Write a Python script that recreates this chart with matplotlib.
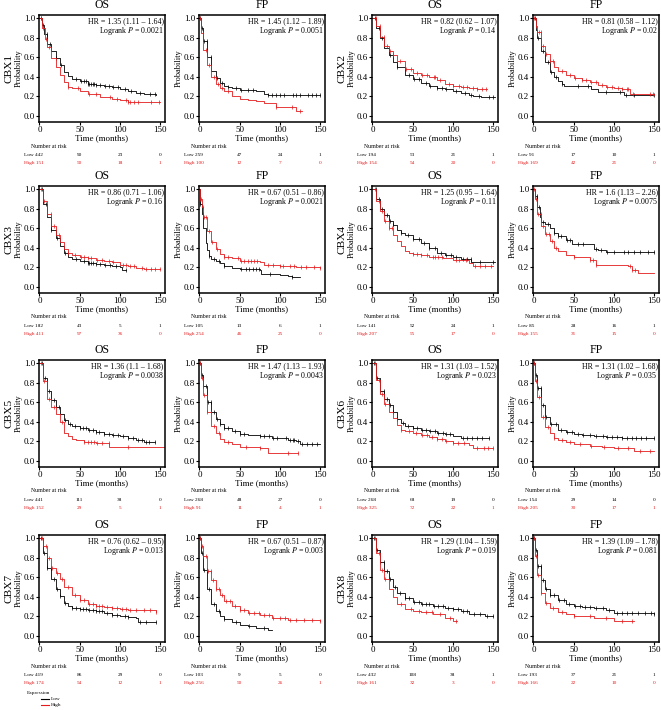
import numpy as np
import matplotlib
matplotlib.use("Agg")
import matplotlib.pyplot as plt
from matplotlib.lines import Line2D
from matplotlib.transforms import blended_transform_factory

plt.rcParams['font.family'] = ['Liberation Serif', 'DejaVu Serif']
plt.rcParams['mathtext.fontset'] = 'stix'

# ---------------- data ----------------
genes = ["CBX1", "CBX2", "CBX3", "CBX4", "CBX5", "CBX6", "CBX7", "CBX8"]
endpoints = ["OS", "FP"]

hr_text = ["1.35 (1.11 – 1.64)", "1.45 (1.12 – 1.89)", "0.82 (0.62 – 1.07)", "0.81 (0.58 – 1.12)",
           "0.86 (0.71 – 1.06)", "0.67 (0.51 – 0.86)", "1.25 (0.95 – 1.64)", "1.6 (1.13 – 2.26)",
           "1.36 (1.1 – 1.68)", "1.47 (1.13 – 1.93)", "1.31 (1.03 – 1.52)", "1.31 (1.02 – 1.68)",
           "0.76 (0.62 – 0.95)", "0.67 (0.51 – 0.87)", "1.29 (1.04 – 1.59)", "1.39 (1.09 – 1.78)"]
p_text = ["0.0021", "0.0051", "0.14", "0.02", "0.16", "0.0021", "0.11", "0.0075",
          "0.0038", "0.0043", "0.023", "0.035", "0.013", "0.003", "0.019", "0.081"]

risk_times = [0, 50, 100, 150]
low_risk = [[442, 90, 23, 0], [259, 47, 24, 1], [194, 53, 21, 1], [91, 17, 10, 1],
            [182, 43, 5, 1], [105, 13, 6, 1], [141, 52, 24, 1], [85, 28, 16, 1],
            [441, 111, 38, 0], [268, 48, 27, 0], [268, 68, 19, 0], [154, 29, 14, 0],
            [419, 86, 29, 0], [103, 9, 5, 0], [432, 108, 38, 1], [193, 37, 21, 1]]
high_risk = [[151, 50, 18, 1], [100, 12, 7, 0], [154, 54, 20, 0], [169, 42, 21, 0],
             [411, 97, 36, 0], [254, 46, 25, 0], [207, 55, 17, 0], [155, 31, 15, 0],
             [152, 29, 5, 1], [91, 11, 4, 1], [325, 72, 22, 1], [205, 30, 17, 1],
             [174, 54, 12, 1], [256, 50, 26, 1], [161, 32, 3, 0], [166, 22, 10, 0]]

# Kaplan-Meier step knots (time in months, survival) and censor times
cbx1_os_low_t = [0, 3, 6, 10, 15, 20, 25, 30, 35, 40, 50, 60, 70, 80, 90, 100, 110, 120, 130, 145]
cbx1_os_low_s = [1.0, 0.93, 0.84, 0.74, 0.66, 0.59, 0.52, 0.45, 0.41, 0.38, 0.36, 0.33, 0.315, 0.30, 0.29, 0.27, 0.25, 0.235, 0.22, 0.21]
cbx1_os_low_c = [2, 5, 9, 13, 20, 27, 45, 52, 56, 58, 60, 62, 64, 66, 68, 70, 75, 82, 86, 92, 98, 106, 114, 125, 137, 143]
cbx1_os_high_t = [0, 3, 7, 10, 15, 20, 25, 30, 35, 40, 50, 60, 75, 90, 100, 110, 150]
cbx1_os_high_s = [1.0, 0.90, 0.79, 0.71, 0.59, 0.50, 0.42, 0.35, 0.29, 0.28, 0.25, 0.22, 0.19, 0.175, 0.16, 0.145, 0.145]
cbx1_os_high_c = [2, 4, 8, 12, 36, 48, 62, 70, 88, 97, 108, 110, 113, 118, 122, 138, 148]

cbx1_fp_low_t = [0, 2, 5, 10, 15, 20, 25, 30, 35, 40, 50, 70, 80, 85, 150]
cbx1_fp_low_s = [1.0, 0.9, 0.77, 0.6, 0.46, 0.39, 0.34, 0.31, 0.29, 0.28, 0.26, 0.25, 0.22, 0.21, 0.21]
cbx1_fp_low_c = [1, 3, 6, 9, 14, 22, 28, 36, 45, 52, 60, 67, 85, 90, 95, 100, 105, 116, 120, 125, 135, 140, 145, 150]
cbx1_fp_high_t = [0, 2, 5, 10, 15, 20, 25, 30, 40, 50, 60, 70, 80, 95, 120, 127]
cbx1_fp_high_s = [1.0, 0.85, 0.68, 0.52, 0.40, 0.33, 0.28, 0.25, 0.20, 0.17, 0.16, 0.15, 0.13, 0.09, 0.05, 0.05]
cbx1_fp_high_c = [1, 4, 8, 12, 18, 23, 28, 35, 95, 115, 125]

cbx2_os_low_t = [0, 5, 10, 15, 20, 25, 30, 40, 50, 60, 70, 80, 90, 100, 110, 120, 125, 135, 152]
cbx2_os_low_s = [1.0, 0.9, 0.8, 0.7, 0.62, 0.55, 0.5, 0.42, 0.38, 0.34, 0.31, 0.28, 0.27, 0.25, 0.23, 0.21, 0.2, 0.19, 0.19]
cbx2_os_low_c = [3, 8, 12, 22, 30, 45, 52, 58, 66, 72, 80, 86, 92, 104, 115, 122, 133, 145, 150]
cbx2_os_high_t = [0, 5, 10, 15, 20, 25, 30, 40, 50, 60, 70, 80, 90, 100, 110, 120, 130, 142]
cbx2_os_high_s = [1.0, 0.92, 0.81, 0.72, 0.66, 0.62, 0.56, 0.48, 0.44, 0.42, 0.40, 0.37, 0.33, 0.31, 0.29, 0.28, 0.27, 0.27]
cbx2_os_high_c = [4, 9, 14, 18, 22, 26, 34, 42, 48, 55, 62, 68, 76, 78, 84, 95, 100, 108, 112, 118, 125, 130, 136, 141]

cbx2_fp_low_t = [0, 3, 5, 10, 15, 20, 25, 30, 35, 38, 72, 80, 112, 150]
cbx2_fp_low_s = [1.0, 0.88, 0.8, 0.66, 0.55, 0.45, 0.40, 0.36, 0.33, 0.31, 0.27, 0.24, 0.21, 0.21]
cbx2_fp_low_c = [2, 6, 12, 18, 22, 28, 36, 55, 68, 90, 108, 115, 125, 150]
cbx2_fp_high_t = [0, 3, 5, 10, 15, 20, 25, 30, 40, 50, 60, 70, 80, 90, 100, 110, 120, 150]
cbx2_fp_high_s = [1.0, 0.92, 0.86, 0.72, 0.63, 0.56, 0.5, 0.46, 0.42, 0.39, 0.37, 0.35, 0.32, 0.29, 0.28, 0.27, 0.22, 0.21]
cbx2_fp_high_c = [1, 3, 5, 7, 9, 12, 16, 20, 24, 35, 45, 52, 60, 65, 72, 78, 85, 92, 98, 105, 110, 116, 118, 124, 145, 148]

cbx3_os_low_t = [0, 5, 10, 15, 20, 25, 30, 35, 40, 50, 60, 70, 80, 90, 100, 102, 108]
cbx3_os_low_s = [1.0, 0.85, 0.72, 0.58, 0.5, 0.42, 0.35, 0.3, 0.28, 0.26, 0.24, 0.235, 0.22, 0.21, 0.2, 0.17, 0.17]
cbx3_os_low_c = [3, 8, 15, 22, 32, 45, 55, 60, 62, 64, 66, 70, 75, 82, 88, 95, 108]
cbx3_os_high_t = [0, 5, 10, 15, 20, 25, 30, 35, 40, 50, 60, 70, 80, 90, 100, 110, 120, 130, 150]
cbx3_os_high_s = [1.0, 0.88, 0.75, 0.62, 0.53, 0.46, 0.39, 0.35, 0.33, 0.31, 0.29, 0.27, 0.26, 0.25, 0.22, 0.21, 0.19, 0.18, 0.18]
cbx3_os_high_c = [2, 6, 10, 14, 18, 24, 36, 44, 52, 56, 60, 64, 72, 78, 86, 92, 104, 108, 112, 118, 128, 132, 138, 144, 150]

cbx3_fp_low_t = [0, 1, 3, 5, 8, 10, 12, 15, 20, 25, 30, 40, 50, 75, 76, 100, 110, 115, 125]
cbx3_fp_low_s = [1.0, 0.85, 0.75, 0.6, 0.45, 0.38, 0.32, 0.28, 0.26, 0.24, 0.21, 0.19, 0.18, 0.17, 0.13, 0.12, 0.11, 0.10, 0.10]
cbx3_fp_low_c = [1, 4, 12, 18, 24, 30, 52, 58, 62, 66, 70, 74, 88, 115]
cbx3_fp_high_t = [0, 1, 3, 5, 10, 15, 20, 25, 30, 40, 50, 75, 80, 100, 120, 150]
cbx3_fp_high_s = [1.0, 0.9, 0.82, 0.72, 0.57, 0.46, 0.39, 0.34, 0.31, 0.29, 0.26, 0.25, 0.22, 0.21, 0.20, 0.19]
cbx3_fp_high_c = [1, 2, 4, 6, 8, 12, 16, 22, 30, 36, 48, 52, 56, 60, 64, 68, 72, 85, 92, 100, 104, 112, 118, 126, 132, 142, 150]

cbx4_os_low_t = [0, 5, 10, 15, 20, 25, 30, 35, 40, 50, 60, 70, 80, 90, 100, 110, 123, 152]
cbx4_os_low_s = [1.0, 0.9, 0.8, 0.74, 0.68, 0.63, 0.58, 0.55, 0.53, 0.49, 0.45, 0.40, 0.35, 0.33, 0.31, 0.28, 0.25, 0.25]
cbx4_os_low_c = [4, 8, 12, 18, 22, 26, 36, 44, 50, 58, 64, 70, 78, 85, 92, 98, 104, 112, 118, 122, 134, 150]
cbx4_os_high_t = [0, 5, 10, 15, 20, 25, 30, 35, 40, 45, 50, 60, 70, 80, 88, 100, 120, 125, 150]
cbx4_os_high_s = [1.0, 0.88, 0.78, 0.68, 0.6, 0.53, 0.47, 0.42, 0.37, 0.35, 0.34, 0.33, 0.31, 0.30, 0.29, 0.27, 0.24, 0.21, 0.21]
cbx4_os_high_c = [3, 8, 12, 16, 20, 24, 50, 55, 60, 68, 75, 78, 82, 86, 104, 108, 116, 128, 134, 140, 147]

cbx4_fp_low_t = [0, 2, 5, 8, 10, 15, 20, 25, 30, 40, 48, 75, 80, 90, 150]
cbx4_fp_low_s = [1.0, 0.93, 0.82, 0.72, 0.67, 0.64, 0.6, 0.55, 0.52, 0.48, 0.44, 0.39, 0.38, 0.36, 0.36]
cbx4_fp_low_c = [2, 4, 7, 12, 18, 26, 30, 34, 42, 46, 55, 62, 78, 84, 92, 100, 112, 118, 125, 133, 142, 150]
cbx4_fp_high_t = [0, 2, 5, 10, 15, 20, 25, 30, 40, 50, 70, 78, 118, 122, 130, 150]
cbx4_fp_high_s = [1.0, 0.9, 0.75, 0.62, 0.54, 0.47, 0.40, 0.37, 0.33, 0.30, 0.27, 0.22, 0.21, 0.17, 0.14, 0.14]
cbx4_fp_high_c = [1, 3, 6, 9, 12, 16, 19, 23, 28, 50, 70, 74, 78, 120, 123, 126]

cbx5_os_low_t = [0, 5, 10, 15, 20, 25, 30, 35, 40, 50, 60, 70, 80, 90, 100, 110, 120, 130, 143]
cbx5_os_low_s = [1.0, 0.85, 0.72, 0.62, 0.55, 0.48, 0.42, 0.38, 0.36, 0.34, 0.32, 0.29, 0.27, 0.26, 0.25, 0.23, 0.21, 0.19, 0.19]
cbx5_os_low_c = [3, 7, 12, 18, 24, 32, 38, 44, 50, 54, 58, 62, 66, 70, 74, 80, 86, 92, 98, 104, 110, 116, 122, 128, 132, 136, 143]
cbx5_os_high_t = [0, 5, 10, 15, 20, 25, 30, 35, 40, 45, 55, 70, 87, 155]
cbx5_os_high_s = [1.0, 0.82, 0.63, 0.55, 0.48, 0.40, 0.28, 0.25, 0.22, 0.21, 0.19, 0.18, 0.14, 0.14]
cbx5_os_high_c = [2, 6, 12, 18, 28, 56, 60, 64, 68, 72, 78, 86, 110]

cbx5_fp_low_t = [0, 2, 5, 10, 15, 20, 25, 30, 40, 50, 60, 75, 90, 110, 120, 125, 150]
cbx5_fp_low_s = [1.0, 0.88, 0.77, 0.6, 0.5, 0.43, 0.38, 0.34, 0.30, 0.27, 0.26, 0.25, 0.23, 0.21, 0.20, 0.17, 0.17]
cbx5_fp_low_c = [1, 3, 5, 8, 11, 14, 18, 22, 26, 30, 36, 44, 50, 55, 75, 80, 86, 92, 96, 108, 112, 116, 118, 122, 128, 134, 140, 146]
cbx5_fp_high_t = [0, 2, 5, 10, 15, 20, 25, 30, 40, 50, 75, 85, 123]
cbx5_fp_high_s = [1.0, 0.85, 0.68, 0.5, 0.36, 0.28, 0.22, 0.19, 0.17, 0.14, 0.13, 0.08, 0.08]
cbx5_fp_high_c = [1, 3, 6, 10, 14, 18, 24, 36, 58, 75, 110, 122]

cbx6_os_low_t = [0, 5, 10, 15, 20, 25, 30, 35, 40, 50, 60, 70, 80, 90, 100, 110, 145]
cbx6_os_low_s = [1.0, 0.85, 0.72, 0.63, 0.57, 0.5, 0.43, 0.39, 0.36, 0.34, 0.32, 0.30, 0.28, 0.27, 0.25, 0.23, 0.23]
cbx6_os_low_c = [2, 6, 10, 14, 18, 22, 26, 30, 38, 44, 50, 56, 62, 66, 72, 78, 82, 88, 92, 96, 112, 118, 124, 130, 136, 145]
cbx6_os_high_t = [0, 5, 10, 15, 20, 25, 30, 35, 40, 50, 60, 70, 80, 90, 100, 120, 125, 150]
cbx6_os_high_s = [1.0, 0.83, 0.69, 0.58, 0.5, 0.44, 0.37, 0.32, 0.30, 0.28, 0.26, 0.24, 0.22, 0.20, 0.18, 0.16, 0.13, 0.13]
cbx6_os_high_c = [3, 8, 12, 16, 36, 46, 54, 62, 68, 74, 80, 86, 92, 100, 106, 114, 130, 138, 144, 150]

cbx6_fp_low_t = [0, 2, 5, 10, 15, 20, 30, 40, 50, 60, 75, 90, 110, 150]
cbx6_fp_low_s = [1.0, 0.88, 0.75, 0.57, 0.45, 0.38, 0.32, 0.29, 0.27, 0.26, 0.25, 0.24, 0.23, 0.23]
cbx6_fp_low_c = [1, 3, 6, 9, 12, 16, 22, 28, 34, 42, 48, 56, 62, 70, 78, 86, 92, 98, 104, 110, 116, 122, 128, 134, 140, 150]
cbx6_fp_high_t = [0, 2, 5, 10, 15, 20, 25, 30, 40, 50, 70, 85, 100, 125, 150]
cbx6_fp_high_s = [1.0, 0.82, 0.65, 0.45, 0.35, 0.28, 0.23, 0.21, 0.19, 0.17, 0.15, 0.14, 0.13, 0.10, 0.10]
cbx6_fp_high_c = [1, 3, 7, 12, 18, 26, 35, 45, 58, 72, 88, 105, 118, 132, 145]

cbx7_os_low_t = [0, 5, 10, 15, 20, 25, 30, 35, 40, 50, 60, 70, 80, 90, 100, 110, 120, 123, 145]
cbx7_os_low_s = [1.0, 0.85, 0.7, 0.58, 0.48, 0.41, 0.34, 0.30, 0.28, 0.27, 0.26, 0.25, 0.23, 0.21, 0.20, 0.19, 0.18, 0.14, 0.14]
cbx7_os_low_c = [2, 6, 10, 14, 18, 22, 26, 32, 40, 46, 50, 54, 58, 62, 66, 70, 74, 78, 84, 90, 96, 106, 110, 125, 132, 145]
cbx7_os_high_t = [0, 5, 10, 15, 20, 25, 30, 40, 50, 60, 70, 80, 90, 100, 110, 145]
cbx7_os_high_s = [1.0, 0.92, 0.8, 0.70, 0.64, 0.58, 0.50, 0.42, 0.37, 0.33, 0.30, 0.29, 0.28, 0.27, 0.26, 0.24]
cbx7_os_high_c = [3, 8, 12, 16, 22, 28, 36, 44, 50, 56, 62, 66, 70, 74, 78, 84, 90, 96, 102, 108, 112, 120, 130, 137, 145]

cbx7_fp_low_t = [0, 2, 5, 10, 15, 20, 25, 30, 40, 50, 60, 70, 85, 90]
cbx7_fp_low_s = [1.0, 0.85, 0.68, 0.48, 0.33, 0.25, 0.2, 0.17, 0.14, 0.11, 0.10, 0.08, 0.06, 0.06]
cbx7_fp_low_c = [1, 3, 6, 9, 12, 18, 24, 30, 45, 62, 80]
cbx7_fp_high_t = [0, 2, 5, 10, 15, 20, 25, 30, 40, 50, 60, 75, 90, 110, 150]
cbx7_fp_high_s = [1.0, 0.92, 0.82, 0.67, 0.57, 0.48, 0.42, 0.36, 0.30, 0.26, 0.23, 0.21, 0.18, 0.16, 0.15]
cbx7_fp_high_c = [1, 3, 5, 8, 11, 14, 17, 21, 24, 28, 33, 38, 44, 50, 56, 62, 68, 74, 80, 86, 92, 100, 106, 112, 120, 130, 140, 150]

cbx8_os_low_t = [0, 5, 10, 15, 20, 25, 30, 40, 50, 60, 75, 90, 100, 110, 120, 140, 150]
cbx8_os_low_s = [1.0, 0.88, 0.76, 0.66, 0.58, 0.5, 0.44, 0.39, 0.35, 0.33, 0.30, 0.28, 0.27, 0.25, 0.22, 0.2, 0.2]
cbx8_os_low_c = [2, 6, 10, 14, 18, 22, 28, 34, 40, 46, 52, 58, 62, 66, 70, 76, 82, 88, 94, 100, 106, 112, 118, 126, 134, 142, 150]
cbx8_os_high_t = [0, 5, 10, 15, 20, 25, 30, 40, 50, 60, 75, 90, 100, 105]
cbx8_os_high_s = [1.0, 0.85, 0.68, 0.58, 0.48, 0.40, 0.33, 0.27, 0.25, 0.24, 0.22, 0.18, 0.15, 0.15]
cbx8_os_high_c = [3, 8, 12, 16, 36, 48, 58, 66, 74, 84, 96, 104]

cbx8_fp_low_t = [0, 2, 5, 10, 15, 20, 30, 40, 50, 60, 75, 90, 100, 150]
cbx8_fp_low_s = [1.0, 0.88, 0.72, 0.57, 0.48, 0.42, 0.37, 0.33, 0.30, 0.29, 0.28, 0.26, 0.23, 0.22]
cbx8_fp_low_c = [1, 3, 6, 9, 12, 16, 20, 26, 32, 38, 44, 52, 58, 64, 70, 78, 86, 94, 104, 110, 116, 122, 130, 138, 146, 150]
cbx8_fp_high_t = [0, 2, 5, 10, 15, 20, 30, 40, 50, 75, 100, 120, 125]
cbx8_fp_high_s = [1.0, 0.82, 0.62, 0.44, 0.34, 0.28, 0.24, 0.22, 0.20, 0.18, 0.15, 0.15, 0.15]
cbx8_fp_high_c = [1, 3, 6, 10, 16, 24, 36, 50, 70, 90, 110, 122]

curves_low = [
    (cbx1_os_low_t, cbx1_os_low_s, cbx1_os_low_c), (cbx1_fp_low_t, cbx1_fp_low_s, cbx1_fp_low_c),
    (cbx2_os_low_t, cbx2_os_low_s, cbx2_os_low_c), (cbx2_fp_low_t, cbx2_fp_low_s, cbx2_fp_low_c),
    (cbx3_os_low_t, cbx3_os_low_s, cbx3_os_low_c), (cbx3_fp_low_t, cbx3_fp_low_s, cbx3_fp_low_c),
    (cbx4_os_low_t, cbx4_os_low_s, cbx4_os_low_c), (cbx4_fp_low_t, cbx4_fp_low_s, cbx4_fp_low_c),
    (cbx5_os_low_t, cbx5_os_low_s, cbx5_os_low_c), (cbx5_fp_low_t, cbx5_fp_low_s, cbx5_fp_low_c),
    (cbx6_os_low_t, cbx6_os_low_s, cbx6_os_low_c), (cbx6_fp_low_t, cbx6_fp_low_s, cbx6_fp_low_c),
    (cbx7_os_low_t, cbx7_os_low_s, cbx7_os_low_c), (cbx7_fp_low_t, cbx7_fp_low_s, cbx7_fp_low_c),
    (cbx8_os_low_t, cbx8_os_low_s, cbx8_os_low_c), (cbx8_fp_low_t, cbx8_fp_low_s, cbx8_fp_low_c)]
curves_high = [
    (cbx1_os_high_t, cbx1_os_high_s, cbx1_os_high_c), (cbx1_fp_high_t, cbx1_fp_high_s, cbx1_fp_high_c),
    (cbx2_os_high_t, cbx2_os_high_s, cbx2_os_high_c), (cbx2_fp_high_t, cbx2_fp_high_s, cbx2_fp_high_c),
    (cbx3_os_high_t, cbx3_os_high_s, cbx3_os_high_c), (cbx3_fp_high_t, cbx3_fp_high_s, cbx3_fp_high_c),
    (cbx4_os_high_t, cbx4_os_high_s, cbx4_os_high_c), (cbx4_fp_high_t, cbx4_fp_high_s, cbx4_fp_high_c),
    (cbx5_os_high_t, cbx5_os_high_s, cbx5_os_high_c), (cbx5_fp_high_t, cbx5_fp_high_s, cbx5_fp_high_c),
    (cbx6_os_high_t, cbx6_os_high_s, cbx6_os_high_c), (cbx6_fp_high_t, cbx6_fp_high_s, cbx6_fp_high_c),
    (cbx7_os_high_t, cbx7_os_high_s, cbx7_os_high_c), (cbx7_fp_high_t, cbx7_fp_high_s, cbx7_fp_high_c),
    (cbx8_os_high_t, cbx8_os_high_s, cbx8_os_high_c), (cbx8_fp_high_t, cbx8_fp_high_s, cbx8_fp_high_c)]

# ---------------- layout ----------------
W, H = 661, 710
fig = plt.figure(figsize=(W / 100, H / 100), dpi=100)
col_left = [39, 199, 372, 533]
row_top = [15, 186, 360, 535]
ax_w, ax_h = 126, 107
RED = "#e41a1c"
BLACK = "#000000"


def draw_curve(ax, t, s, c, color):
    t = np.asarray(t, float)
    s = np.asarray(s, float)
    ax.plot(t, s, drawstyle="steps-post", color=color, lw=0.6)
    c = np.asarray(c, float)
    c = c[c <= t[-1]]
    idx = np.searchsorted(t, c, side="right") - 1
    ax.plot(c, s[idx], linestyle="none", marker="|", ms=2.6, mew=0.5, color=color)


for k in range(16):
    r, col = k // 4, k % 4
    gene = genes[2 * r + col // 2]
    ep = endpoints[col % 2]
    left = col_left[col] / W
    bottom = 1 - (row_top[r] + ax_h) / H
    ax = fig.add_axes([left, bottom, ax_w / W, ax_h / H])

    draw_curve(ax, *curves_low[k], BLACK)
    draw_curve(ax, *curves_high[k], RED)

    ax.set_xlim(-0.5, 156)
    ax.set_ylim(-0.065, 1.035)
    ax.set_xticks([0, 50, 100, 150])
    ax.set_yticks([0.0, 0.2, 0.4, 0.6, 0.8, 1.0])
    ax.set_yticklabels([f"{v:.1f}" for v in [0.0, 0.2, 0.4, 0.6, 0.8, 1.0]])
    ax.tick_params(labelsize=6.5, length=2.0, width=0.8, pad=0.8)
    for sp in ax.spines.values():
        sp.set_linewidth(1.1)
    ax.set_xlabel("Time (months)", fontsize=6.5, labelpad=0.5)
    ax.set_ylabel("Probability", fontsize=6.0)
    ax.yaxis.label.set_verticalalignment("center")
    ax.yaxis.set_label_coords(-20.5 / ax_w, 0.5)

    ax.text(0.5, 1 + 10 / ax_h, ep, transform=ax.transAxes, ha="center", va="center", fontsize=8.5)
    if col % 2 == 0:
        ax.text(-30 / ax_w, 0.5, gene, transform=ax.transAxes, rotation=90,
                ha="center", va="center", fontsize=8.2)

    ax.text(0.99, 1 - 6 / ax_h, "HR = " + hr_text[k], transform=ax.transAxes,
            ha="right", va="center", fontsize=5.7)
    ax.text(0.99, 1 - 16 / ax_h, r"Logrank $\mathit{P}$ = " + p_text[k], transform=ax.transAxes,
            ha="right", va="center", fontsize=5.7)

    # number at risk table
    tr = blended_transform_factory(ax.transData, ax.transAxes)
    y_hdr = -(146 - 15 - ax_h) / ax_h
    y_low = -(155 - 15 - ax_h) / ax_h
    y_high = -(163 - 15 - ax_h) / ax_h
    ax.text(12, y_hdr, "Number at risk", transform=tr, ha="center", va="center",
            fontsize=4.2, clip_on=False)
    for j, tt in enumerate(risk_times):
        if j == 0:
            ax.text(-19, y_low, f"Low {low_risk[k][0]}", transform=tr, ha="left", va="center",
                    fontsize=3.8, color=BLACK, clip_on=False)
            ax.text(-19, y_high, f"High {high_risk[k][0]}", transform=tr, ha="left", va="center",
                    fontsize=3.8, color=RED, clip_on=False)
        else:
            ax.text(tt, y_low, str(low_risk[k][j]), transform=tr, ha="center", va="center",
                    fontsize=3.8, color=BLACK, clip_on=False)
            ax.text(tt, y_high, str(high_risk[k][j]), transform=tr, ha="center", va="center",
                    fontsize=3.8, color=RED, clip_on=False)

# legend
fig.text(27 / W, 1 - 693 / H, "Expression", fontsize=3.8, ha="left", va="center")
for yy, lab, colr in [(699, "Low", BLACK), (705, "High", RED)]:
    fig.add_artist(Line2D([41 / W, 49 / W], [1 - yy / H, 1 - yy / H], color=colr, lw=0.8))
    fig.text(51 / W, 1 - yy / H, lab, fontsize=3.8, ha="left", va="center")

fig.savefig("out.png", dpi=100)
